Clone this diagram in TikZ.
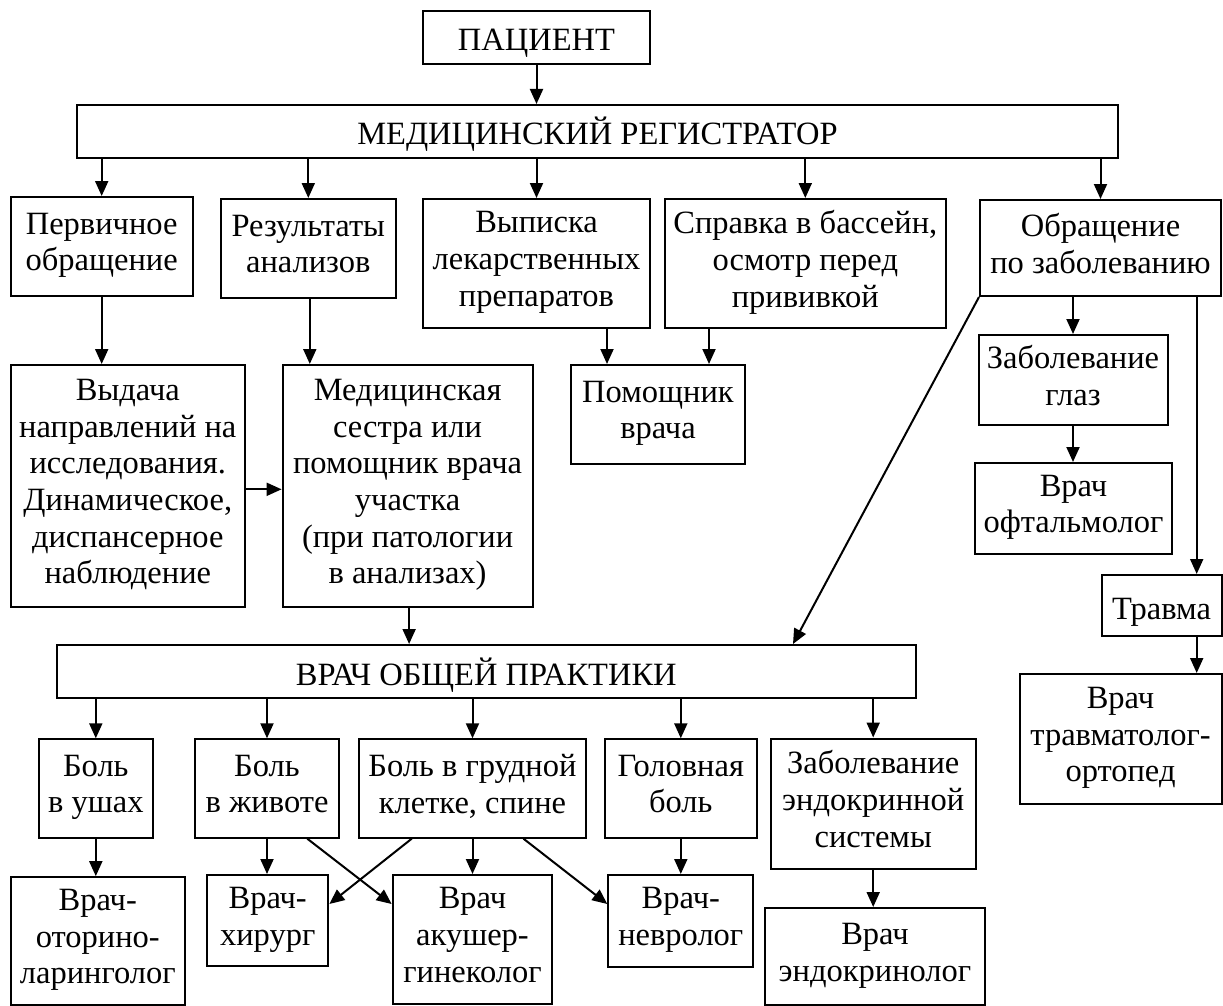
\documentclass[tikz,border=0pt]{standalone}
\usepackage{fontspec}
\setmainfont{Liberation Serif}
\usetikzlibrary{arrows.meta}
\begin{document}
\begin{tikzpicture}[x=1pt,y=-1pt,
  box/.style={draw, line width=2pt, align=center, inner sep=0pt,
    font=\fontsize{32.5}{36.7}\selectfont,
    execute at begin node={\rule{0pt}{36pt}},
    execute at end node={\rule[-9pt]{0pt}{9pt}}},
  arr/.style={line width=2pt, -{Triangle[length=15pt,width=13pt]}}]
\useasboundingbox[fill=white] (0,0) rectangle (1223,1006);
% nodes
\node[box, minimum width=227pt, minimum height=53pt] (pac) at (536.5,37.5) {ПАЦИЕНТ};
\node[box, minimum width=1041pt, minimum height=53pt] (reg) at (597.5,131.5) {МЕДИЦИНСКИЙ РЕГИСТРАТОР};
\node[box, minimum width=182pt, minimum height=99pt] (perv) at (101.7,246.5) {Первичное\\обращение};
\node[box, minimum width=174.7pt, minimum height=99pt] (rez) at (308.3,248.5) {Результаты\\анализов};
\node[box, minimum width=227pt, minimum height=129pt] (vyp) at (536.5,263.5) {Выписка\\лекарственных\\препаратов};
\node[box, minimum width=280.7pt, minimum height=129pt] (spr) at (805.3,263.5) {Справка в бассейн,\\осмотр перед\\прививкой};
\node[box, minimum width=241pt, minimum height=96pt] (obr) at (1100.5,248) {Обращение\\по заболеванию};
\node[box, minimum width=234.3pt, minimum height=242pt] (vyd) at (127.8,486) {Выдача\\направлений на\\исследования.\\Динамическое,\\диспансерное\\наблюдение};
\node[box, minimum width=250pt, minimum height=242pt] (med) at (407.6,486) {Медицинская\\сестра или\\помощник врача\\участка\\(при патологии\\в анализах)};
\node[box, minimum width=174pt, minimum height=99pt] (pom) at (658,414.5) {Помощник\\врача};
\node[box, minimum width=189pt, minimum height=90pt] (glaz) at (1073,380) {Заболевание\\глаз};
\node[box, minimum width=197.5pt, minimum height=91pt] (oft) at (1073.5,508.5) {Врач\\офтальмолог};
\node[box, minimum width=120pt, minimum height=61pt] (trav) at (1161.5,605.5) {Травма};
\node[box, minimum width=202pt, minimum height=130pt] (travm) at (1120.5,739) {Врач\\травматолог-\\ортопед};
\node[box, minimum width=859.3pt, minimum height=53pt] (vop) at (486.3,671.5) {ВРАЧ ОБЩЕЙ ПРАКТИКИ};
\node[box, minimum width=113.7pt, minimum height=98.4pt] (ushi) at (95.8,788.5) {Боль\\в ушах};
\node[box, minimum width=144pt, minimum height=98.4pt] (ziv) at (267,788.5) {Боль\\в животе};
\node[box, minimum width=227pt, minimum height=98.4pt] (grud) at (472.5,788.5) {Боль в грудной\\клетке, спине};
\node[box, minimum width=151.7pt, minimum height=98.4pt] (gol) at (680.8,788.5) {Головная\\боль};
\node[box, minimum width=205pt, minimum height=130pt] (endo) at (873.2,803.5) {Заболевание\\эндокринной\\системы};
\node[box, minimum width=174.3pt, minimum height=127.7pt] (lor) at (97.8,941) {Врач-\\оторино-\\ларинголог};
\node[box, minimum width=121.3pt, minimum height=91pt] (hir) at (267.7,920.5) {Врач-\\хирург};
\node[box, minimum width=159.7pt, minimum height=129pt] (akush) at (472.5,939.5) {Врач\\акушер-\\гинеколог};
\node[box, minimum width=145pt, minimum height=92pt] (nevr) at (680.8,921) {Врач-\\невролог};
\node[box, minimum width=220pt, minimum height=97pt] (endr) at (875,956.5) {Врач\\эндокринолог};
% helper coordinates
\coordinate (x607) at (607,0);
\coordinate (x709) at (709,0);
\coordinate (x1197) at (1196.7,0);
\coordinate (x793) at (793,0);
\coordinate (x307) at (307.3,0);
\coordinate (x412) at (411.7,0);
\coordinate (x524) at (523.5,0);
\coordinate (y904) at (0,904);
% connectors
\draw[arr] (pac.south) -- (reg.north -| pac);
\draw[arr] (reg.south -| perv) -- (perv.north);
\draw[arr] (reg.south -| rez) -- (rez.north);
\draw[arr] (reg.south -| vyp) -- (vyp.north);
\draw[arr] (reg.south -| spr) -- (spr.north);
\draw[arr] (reg.south -| obr) -- (obr.north);
\draw[arr] (perv.south) -- (perv.south |- vyd.north);
\draw[arr] ([xshift=1.5pt]rez.south) -- ([xshift=1.5pt]rez.south |- med.north);
\draw[arr] ([yshift=-3.3pt]vyd.east) -- ([yshift=-3.3pt]med.west);
\draw[arr] ([xshift=1.5pt]med.south) -- ([xshift=1.5pt]med.south |- vop.north);
\draw[arr] (vyp.south -| x607) -- (pom.north -| x607);
\draw[arr] (spr.south -| x709) -- (pom.north -| x709);
\draw[arr] (obr.south -| glaz) -- (glaz.north);
\draw[arr] (glaz.south) -- (glaz.south |- oft.north);
\draw[arr] (obr.south -| x1197) -- (trav.north -| x1197);
\draw[arr] (trav.south -| x1197) -- (travm.north -| x1197);
\draw[arr] (obr.south west) -- (vop.north -| x793);
\draw[arr] (vop.south -| ushi) -- (ushi.north);
\draw[arr] (vop.south -| ziv) -- (ziv.north);
\draw[arr] (vop.south -| grud) -- (grud.north);
\draw[arr] (vop.south -| gol) -- (gol.north);
\draw[arr] (vop.south -| endo) -- (endo.north);
\draw[arr] (ushi.south) -- (ushi.south |- lor.north);
\draw[arr] (ziv.south) -- (ziv.south |- hir.north);
\draw[arr] (grud.south) -- (grud.south |- akush.north);
\draw[arr] (gol.south) -- (gol.south |- nevr.north);
\draw[arr] (endo.south) -- (endo.south |- endr.north);
\draw[arr] (ziv.south -| x307) -- (akush.west |- y904);
\draw[arr] (grud.south -| x412) -- (hir.east |- y904);
\draw[arr] (grud.south -| x524) -- (nevr.west |- y904);
\end{tikzpicture}
\end{document}
